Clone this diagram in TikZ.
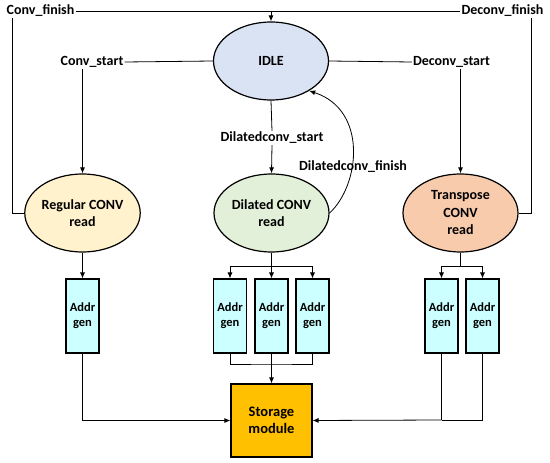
\documentclass[tikz,border=0pt]{standalone}
\usepackage{fontspec}
\setmainfont{Carlito}
\usetikzlibrary{shapes.geometric,arrows.meta,calc}
\definecolor{idlec}{HTML}{DAE3F3}
\definecolor{regc}{HTML}{FFF2CC}
\definecolor{dilc}{HTML}{E2F0D9}
\definecolor{trc}{HTML}{F8CBAD}
\definecolor{addrc}{HTML}{CCFFFF}
\definecolor{stc}{HTML}{FFC000}
\tikzset{
  state/.style={ellipse, draw, line width=1.2pt, minimum width=115pt, minimum height=78pt, inner sep=0pt, align=center,
    font=\fontsize{14}{17.5}\selectfont\bfseries},
  addrbox/.style={rectangle, draw, line width=1.1pt, fill=addrc, minimum width=33pt, minimum height=74pt, inner sep=0pt, align=center,
    font=\fontsize{12.5}{15}\selectfont\bfseries},
  lbl/.style={inner sep=1pt, font=\fontsize{14}{17}\selectfont\bfseries},
  conn/.style={line width=0.8pt},
  arr/.style={line width=0.8pt, -{Latex[length=6pt,width=5pt]}},
}
\begin{document}
\begin{tikzpicture}[x=1pt,y=-1pt]
\useasboundingbox (0,0) rectangle (550,463);
% states
\node[state, fill=idlec] (idle) at (271,61) {IDLE};
\node[state, fill=regc] (reg) at (82.5,213) {Regular CONV\\read};
\node[state, fill=dilc] (dil) at (271.5,213) {Dilated CONV\\read};
\node[state, fill=trc] (tr) at (460.5,213) {Transpose\\CONV\\read};
% labels
\node[lbl] (cf) at (40.5,11) {Conv\_finish};
\node[lbl] (df) at (502.5,11) {Deconv\_finish};
\node[lbl] (cs) at (92,62) {Conv\_start};
\node[lbl] (dcs) at (451.5,62) {Deconv\_start};
\node[lbl] (ds) at (272,138) {Dilatedconv\_start};
\node[lbl] (dfin) at (353,167) {Dilatedconv\_finish};
% addr gen boxes
\node[addrbox] (a1) at (82.5,316) {Addr\\gen};
\node[addrbox] (a2) at (230,316) {Addr\\gen};
\node[addrbox] (a3) at (271.5,316) {Addr\\gen};
\node[addrbox] (a4) at (312.5,316) {Addr\\gen};
\node[addrbox] (a5) at (441.5,316) {Addr\\gen};
\node[addrbox] (a6) at (482.5,316) {Addr\\gen};
% storage
\node[rectangle, draw, line width=1.2pt, fill=stc, minimum width=81pt, minimum height=73pt, align=center,
  font=\fontsize{14.5}{17}\selectfont\bfseries] (st) at (271.5,420.5) {Storage\\module};
% coordinates
\coordinate (lc) at (12,213);
\coordinate (rc) at (531,213);
\coordinate (dsplit) at (271.5,266);
\coordinate (tsplit) at (460.5,266);
\coordinate (djoin) at (271.5,364);
\coordinate (tjoin) at (441.5,420);
% top connectors
\draw[conn] (cf.east) -- (cf.east -| idle.north);
\draw[arr] (df.west) -| (idle.north);
\draw[conn] (cf.south -| lc) -- (lc) -- (reg.west);
\draw[conn] (df.south -| rc) -- (rc) -- (tr.east);
\draw[conn] (idle.west) -- (cs.east);
\draw[arr] (cs.south -| reg.north) -- (reg.north);
\draw[conn] (idle.east) -- (dcs.west);
\draw[arr] (dcs.south -| tr.north) -- (tr.north);
\draw[conn] (idle.south) -- (ds.north);
\draw[arr] (ds.south) -- (dil.north);
\draw[arr] (dil.east) .. controls (360,185) and (368,110) .. (idle.-38);
% to addr boxes
\draw[arr] (reg.south) -- (a1.north);
\draw[conn] (dil.south) -- (dsplit);
\draw[arr] (dsplit) -| (a2.north);
\draw[arr] (dsplit) -- (a3.north);
\draw[arr] (dsplit) -| (a4.north);
\draw[conn] (tr.south) -- (tsplit);
\draw[arr] (tsplit) -| (a5.north);
\draw[arr] (tsplit) -| (a6.north);
% to storage
\draw[arr] (a1.south) |- (st.west);
\draw[conn] (a2.south) |- (djoin) -| (a4.south);
\draw[conn] (a3.south) -- (djoin);
\draw[arr] (djoin) -- (st.north);
\draw[conn] (a5.south) -- (tjoin);
\draw[conn] (a6.south) |- (tjoin);
\draw[arr] (tjoin) -- (st.east);
\end{tikzpicture}
\end{document}
